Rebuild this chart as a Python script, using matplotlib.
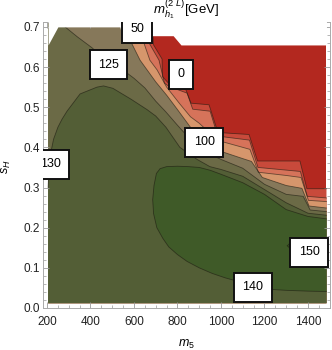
import matplotlib
matplotlib.use("Agg")
import matplotlib.pyplot as plt
from matplotlib.ticker import MultipleLocator, FormatStrFormatter

plt.rcParams['font.family'] = ['Liberation Sans', 'DejaVu Sans']
plt.rcParams['mathtext.fontset'] = 'custom'
plt.rcParams['mathtext.rm'] = 'Liberation Sans'
plt.rcParams['mathtext.it'] = 'Liberation Sans:italic'

# contour levels of m_h1 (GeV); band_colors[i] is the band just above levels[i-1]
levels = [0, 25, 50, 100, 125, 130, 140, 150]
band_colors = ['#b3281f', '#c84a3b', '#d6735a', '#d6966c', '#86785a',
               '#6b6a46', '#535e36', '#3f5a28', '#35561f']

# scanned region (m5, s_H)
m5_min, m5_max, sH_min = 205, 1485, 0.012
top_m5 = [205, 250, 535, 545, 780, 816, 1485]
top_sH = [0.655, 0.70, 0.70, 0.678, 0.678, 0.655, 0.655]

# contour lines, left to right
c0_m5 = [680, 683, 690, 729, 731, 765, 839, 862, 945, 986, 1129, 1168, 1363, 1395, 1485]
c0_sH = [0.72, 0.70, 0.655, 0.62, 0.576, 0.556, 0.543, 0.51, 0.506, 0.437, 0.432, 0.366, 0.366, 0.297, 0.297]

c25_m5 = [650, 662, 715, 740, 760, 844, 870, 950, 985, 1131, 1170, 1365, 1397, 1485]
c25_sH = [0.72, 0.667, 0.617, 0.56, 0.552, 0.535, 0.495, 0.49, 0.428, 0.418, 0.35, 0.34, 0.278, 0.274]

c50_m5 = [610, 641, 673, 706, 750, 811, 860, 900, 960, 1000, 1100, 1133, 1172, 1300, 1368, 1402, 1485]
c50_sH = [0.72, 0.667, 0.617, 0.593, 0.55, 0.508, 0.476, 0.46, 0.43, 0.415, 0.40, 0.395, 0.338, 0.33, 0.325, 0.268, 0.265]

c100_m5 = [545, 582, 628, 660, 700, 750, 800, 857, 917, 960, 1000, 1100, 1140, 1190, 1300, 1372, 1405, 1485]
c100_sH = [0.72, 0.667, 0.617, 0.593, 0.563, 0.53, 0.494, 0.452, 0.412, 0.398, 0.39, 0.372, 0.365, 0.325, 0.305, 0.298, 0.254, 0.249]

c125_m5 = [270, 283, 340, 407, 480, 568, 600, 650, 700, 747, 800, 850, 900, 949, 1000, 1100, 1200, 1300, 1378, 1410, 1485]
c125_sH = [0.72, 0.70, 0.675, 0.648, 0.612, 0.585, 0.572, 0.548, 0.515, 0.488, 0.455, 0.425, 0.40, 0.383, 0.37, 0.348, 0.308, 0.283, 0.278, 0.244, 0.24]

c130_m5 = [205, 208, 215, 230, 250, 269, 292, 352, 430, 460, 503, 586, 660, 700, 747, 811, 890, 949, 1000, 1100, 1200, 1300, 1400, 1485]
c130_sH = [0.30, 0.34, 0.38, 0.42, 0.45, 0.47, 0.49, 0.533, 0.55, 0.553, 0.547, 0.52, 0.494, 0.478, 0.45, 0.40, 0.37, 0.352, 0.345, 0.328, 0.295, 0.262, 0.236, 0.231]

# 140 GeV line: closed region touching the right edge
c140_m5 = [1485, 1400, 1300, 1200, 1100, 1000, 950, 900, 850, 800, 750, 720, 703, 692, 686, 690, 705, 733, 760,
           800, 844, 900, 960, 1020, 1073, 1150, 1239, 1300, 1400, 1485]
c140_sH = [0.222, 0.228, 0.245, 0.283, 0.312, 0.333, 0.343, 0.35, 0.352, 0.353, 0.352, 0.347, 0.335, 0.305, 0.27,
           0.235, 0.20, 0.173, 0.152, 0.133, 0.116, 0.10, 0.086, 0.075, 0.067, 0.055, 0.046, 0.044, 0.042, 0.041]

# tiny 150 GeV island
c150_m5 = [1305, 1318, 1332, 1318, 1305]
c150_sH = [0.155, 0.162, 0.155, 0.148, 0.155]

# contour labels
label_txt = ['50', '125', '0', '100', '130', '150', '140']
label_m5 = [614, 483, 818, 924, 216, 1405, 1147]
label_sH = [0.695, 0.606, 0.582, 0.413, 0.358, 0.139, 0.052]

fig = plt.figure(figsize=(3.32, 3.5), dpi=100)
ax = fig.add_axes([0.1295, 0.12, 0.863, 0.817])

ax.fill([m5_min, m5_max, m5_max, m5_min], [sH_min, sH_min, 0.75, 0.75],
        color=band_colors[0], lw=0, zorder=1)
curves = [(c0_m5, c0_sH), (c25_m5, c25_sH), (c50_m5, c50_sH),
          (c100_m5, c100_sH), (c125_m5, c125_sH), (c130_m5, c130_sH)]
for i, (cx, cy) in enumerate(curves):
    xs = [m5_min] + cx + [m5_max, m5_min]
    ys = [cy[0]] + cy + [sH_min, sH_min]
    ax.fill(xs, ys, color=band_colors[i + 1], lw=0, zorder=1)
ax.fill(c140_m5, c140_sH, color=band_colors[7], lw=0, zorder=1)
ax.fill(c150_m5, c150_sH, color=band_colors[8], lw=0, zorder=1)

line_kw = dict(color='#1c1a10', lw=0.6, alpha=0.6, zorder=2)
for cx, cy in curves:
    ax.plot(cx, cy, **line_kw)
ax.plot(c140_m5, c140_sH, **line_kw)
ax.plot(c150_m5, c150_sH, **line_kw)

# outside the scanned region
ax.fill_between(top_m5, top_sH, 0.8, color='white', lw=0, zorder=3)

for txt, x, y in zip(label_txt, label_m5, label_sH):
    ax.text(x, y, txt, ha='center', va='center', fontsize=9, zorder=6, clip_on=True,
            bbox=dict(boxstyle='square,pad=0.68', fc='white', ec='#111111', lw=1.4))

ax.set_xlim(181.6, 1499)
ax.set_ylim(0, 0.712)
ax.xaxis.set_major_locator(MultipleLocator(200))
ax.xaxis.set_minor_locator(MultipleLocator(50))
ax.yaxis.set_major_locator(MultipleLocator(0.1))
ax.yaxis.set_minor_locator(MultipleLocator(0.02))
ax.yaxis.set_major_formatter(FormatStrFormatter('%.1f'))
ax.tick_params(which='both', direction='in', top=True, right=True, color='#9a9a9a',
               labelsize=8.5, labelcolor='#222222')
ax.tick_params(which='major', length=4, width=0.6)
ax.tick_params(which='minor', length=2.3, width=0.5)
ax.tick_params(axis='x', pad=6)
ax.tick_params(axis='y', pad=2.5)
for s in ax.spines.values():
    s.set_color('#aaaaaa')
    s.set_linewidth(0.7)

ax.set_title(r'$m_{h_1}^{(2\ L)}$[GeV]', fontsize=9.5, pad=3)
ax.set_xlabel(r'$m_5$', fontsize=9)
ax.xaxis.set_label_coords(0.5, -0.105)
ax.set_ylabel(r'$s_H$', fontsize=9)
ax.yaxis.set_label_coords(-0.105, 0.493)

fig.savefig('out.png', dpi=100)
